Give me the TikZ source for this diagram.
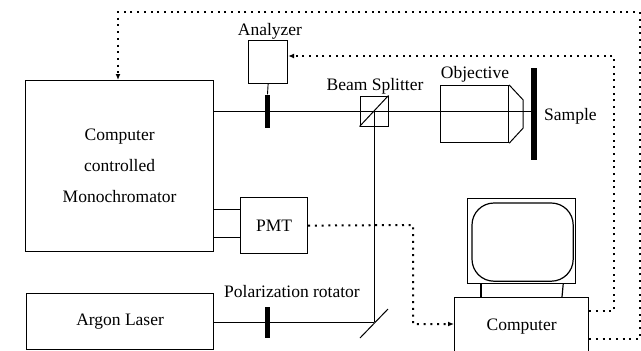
\documentclass[tikz,border=0pt]{standalone}
\usepackage{fontspec}
\setmainfont{Liberation Serif}
\usetikzlibrary{arrows.meta,calc}
\begin{document}
\begin{tikzpicture}[x=1pt,y=-1pt,
  every node/.style={font=\fontsize{17.5}{21}\selectfont},
  box/.style={draw,line width=1.2pt,inner sep=0pt,anchor=north west},
  beam/.style={line width=0.9pt},
  filt/.style={fill=black,draw=none,inner sep=0pt},
  sig/.style={line width=2pt,dash pattern=on 2pt off 4.7pt},
  tip/.style={-{Latex[length=6pt,width=5pt]}},
  lbl/.style={anchor=base,inner sep=0pt}
]
\useasboundingbox (0,0) rectangle (641,351);
\clip (0,0) rectangle (641,351);

% main instrument boxes
\node[box,minimum width=188pt,minimum height=171pt,align=center,
      font=\fontsize{17.5}{31}\selectfont] (mono) at (25,80)
      {Computer\\controlled\\Monochromator};
\node[box,minimum width=67pt,minimum height=56pt] (pmt) at (240,197) {PMT};
\node[box,minimum width=187pt,minimum height=56pt] (laser) at (26,293) {Argon Laser};
\node[box,minimum width=39pt,minimum height=43pt] (ana) at (248,40) {};
\node[lbl] (analbl) at (270,35.5) {Analyzer};

% computer with monitor
\node[box,minimum width=134pt,minimum height=58pt] (comp) at (454,297) {Computer};
\node[box,minimum width=108pt,minimum height=85pt] (mon) at (467,198) {};
\draw[line width=1.2pt,rounded corners=22pt]
  ($(mon.north west)+(5,5)$) rectangle ($(mon.south east)+(-3,-3)$);
\draw[line width=1.2pt] ($(mon.south west)+(14,0)$) -- ($(comp.north west)+(27,0)$);
\draw[line width=1.2pt] ($(mon.south east)+(-13,0)$) -- ($(comp.north west)+(108,0)$);

% optics
\node[draw,line width=1pt,minimum width=28pt,minimum height=30pt,inner sep=0pt] (spl) at (374,111) {};
\draw[line width=1pt] (spl.south west) -- (spl.north east);
\node[lbl] (spllbl) at (375,90.5) {Beam Splitter};

\node[box,minimum width=68pt,minimum height=57pt] (obj) at (440,85) {};
\draw[line width=1pt] (obj.north east) -- ++(14,15) -- ++(0,28) -- (obj.south east);
\node[lbl] (objlbl) at (475,78) {Objective};

\node[filt,minimum width=6pt,minimum height=92pt] (smp) at (534,114) {};
\node[lbl,anchor=base west] (smplbl) at (544,120) {Sample};

\node[filt,minimum width=5pt,minimum height=33pt] (anf) at (267.5,111) {};
\node[filt,minimum width=5pt,minimum height=31pt] (polf) at (267.5,322) {};
\node[lbl] (pollbl) at (292,297.5) {Polarization rotator};

\coordinate (mir) at (374,322);
\draw[line width=1pt] ($(mir)+(-14,16)$) -- ($(mir)+(14,-13)$);

% beam paths
\draw[beam] (mono.east |- 0,111) -- (smp.west |- 0,111);
\draw[beam] (ana.south) -- (anf.north);
\draw[beam] (laser.east |- mir) -- (mir);
\draw[beam] (spl.center) -- (mir);
\draw[beam] (mono.east |- 0,209) -- (pmt.west |- 0,209);
\draw[beam] (mono.east |- 0,237) -- (pmt.west |- 0,237);

% signal and control lines
\draw[sig,tip] (comp.east |- 0,339) -- (639.5,339) -- (639.5,12) -- (118,12) -- (mono.north -| 118,0);
\draw[sig,tip] (comp.east |- 0,311) -- (614,311) -- (614,56) -- (ana.east |- 0,56);
\draw[sig,tip] (pmt.east) -- (413,225) -- (413,324) -- (comp.west |- 0,324);
\end{tikzpicture}
\end{document}
